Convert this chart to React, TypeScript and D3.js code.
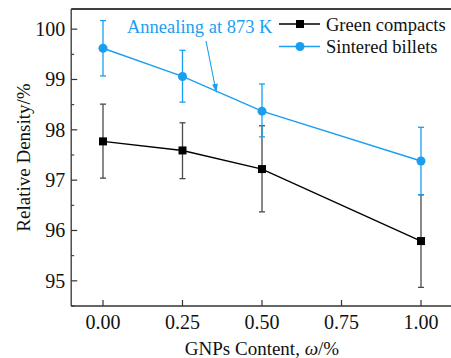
import * as d3 from "d3";

const W = 451;
const H = 358;

const gnpContent = [0, 0.25, 0.5, 1.0];
const greenDensity = [97.77, 97.59, 97.22, 95.79];
const greenErrUp = [98.51, 98.14, 98.08, 96.71];
const greenErrDown = [97.04, 97.03, 96.37, 94.87];
const sinteredDensity = [99.62, 99.06, 98.37, 97.38];
const sinteredErrUp = [100.17, 99.58, 98.91, 98.05];
const sinteredErrDown = [99.07, 98.55, 97.86, 96.71];
const xTicks = [0, 0.25, 0.5, 0.75, 1.0];
const yTicks = [95, 96, 97, 98, 99, 100];
const yMinorTicks = [94.5, 95.5, 96.5, 97.5, 98.5, 99.5];

const BLUE = "#1a9ff0";
const FONT = '"Liberation Serif", "Times New Roman", "DejaVu Serif", serif';

export default function App() {
  const x = d3.scaleLinear().domain([-0.1, 1.1]).range([71.2, 452.8]);
  const y = d3.scaleLinear().domain([94.5, 100.4]).range([306, 9]);

  const line = d3
    .line<[number, number]>()
    .x((d) => x(d[0]))
    .y((d) => y(d[1]));

  const greenPts = gnpContent.map((c, i) => [c, greenDensity[i]] as [number, number]);
  const sintPts = gnpContent.map((c, i) => [c, sinteredDensity[i]] as [number, number]);

  const errBar = (c: number, lo: number, hi: number, color: string, key: string) => (
    <g key={key} stroke={color} strokeWidth={1.3}>
      <line x1={x(c)} x2={x(c)} y1={y(lo)} y2={y(hi)} />
      <line x1={x(c) - 3} x2={x(c) + 3} y1={y(lo)} y2={y(lo)} />
      <line x1={x(c) - 3} x2={x(c) + 3} y1={y(hi)} y2={y(hi)} />
    </g>
  );

  const left = x.range()[0];
  const bottom = y.range()[0];
  const top = y.range()[1];

  return (
    <div style={{ position: "absolute", left: 0, top: 0 }}>
      <svg width={W} height={H} style={{ display: "block", background: "#fff", fontFamily: FONT }}>
        {/* frame */}
        <line x1={left} x2={W} y1={top} y2={top} stroke="#000" strokeWidth={1.3} />
        <line x1={left} x2={left} y1={top} y2={bottom} stroke="#333" strokeWidth={1.3} />
        <line x1={left} x2={W} y1={bottom} y2={bottom} stroke="#333" strokeWidth={1.3} />

        {/* y ticks */}
        {yTicks.map((t) => (
          <g key={"y" + t}>
            <line x1={left} x2={left + 6} y1={y(t)} y2={y(t)} stroke="#333" strokeWidth={1.2} />
            <text x={left - 6} y={y(t)} dy="0.35em" textAnchor="end" fontSize={20} fill="#111">
              {t}
            </text>
          </g>
        ))}
        {yMinorTicks.map((t) => (
          <line key={"ym" + t} x1={left} x2={left + 3} y1={y(t)} y2={y(t)} stroke="#333" strokeWidth={1.1} />
        ))}

        {/* x ticks */}
        {xTicks.map((t) => (
          <g key={"x" + t}>
            <line x1={x(t)} x2={x(t)} y1={bottom} y2={bottom - 6} stroke="#333" strokeWidth={1.2} />
            <text x={x(t)} y={329} textAnchor="middle" fontSize={20} fill="#111">
              {t.toFixed(2)}
            </text>
          </g>
        ))}

        {/* axis titles */}
        <text x={262} y={355} textAnchor="middle" fontSize={19} fill="#111">
          GNPs Content, <tspan fontStyle="italic">ω</tspan>/%
        </text>
        <text
          transform={`translate(30, ${(top + bottom) / 2}) rotate(-90)`}
          textAnchor="middle"
          fontSize={19}
          fill="#111"
        >
          Relative Density/%
        </text>

        {/* error bars */}
        {gnpContent.map((c, i) => errBar(c, greenErrDown[i], greenErrUp[i], "#4a4a4a", "ge" + i))}
        {gnpContent.map((c, i) => errBar(c, sinteredErrDown[i], sinteredErrUp[i], BLUE, "se" + i))}

        {/* series lines */}
        <path d={line(greenPts) ?? ""} fill="none" stroke="#000" strokeWidth={1.4} />
        <path d={line(sintPts) ?? ""} fill="none" stroke={BLUE} strokeWidth={1.4} />

        {/* markers */}
        {greenPts.map((p, i) => (
          <rect key={"gm" + i} x={x(p[0]) - 4} y={y(p[1]) - 4} width={8} height={8} fill="#000" />
        ))}
        {sintPts.map((p, i) => (
          <circle key={"sm" + i} cx={x(p[0])} cy={y(p[1])} r={4.5} fill={BLUE} />
        ))}

        {/* annotation */}
        <text x={127} y={33} fontSize={18.5} fill={BLUE}>
          Annealing at 873 K
        </text>
        <line x1={206} y1={41} x2={215} y2={86} stroke={BLUE} strokeWidth={1.1} />
        <path d="M 216.5 93 L 212.2 84.5 L 217.8 83.4 Z" fill={BLUE} />

        {/* legend */}
        <g>
          <line x1={279} x2={320} y1={24} y2={24} stroke="#000" strokeWidth={1.4} />
          <rect x={296} y={20} width={8} height={8} fill="#000" />
          <text x={326} y={30.5} fontSize={18.5} fill="#111">
            Green compacts
          </text>
          <line x1={279} x2={320} y1={46.5} y2={46.5} stroke={BLUE} strokeWidth={1.4} />
          <circle cx={300} cy={46.5} r={4.5} fill={BLUE} />
          <text x={326} y={53} fontSize={18.5} fill="#111">
            Sintered billets
          </text>
        </g>
      </svg>
    </div>
  );
}
